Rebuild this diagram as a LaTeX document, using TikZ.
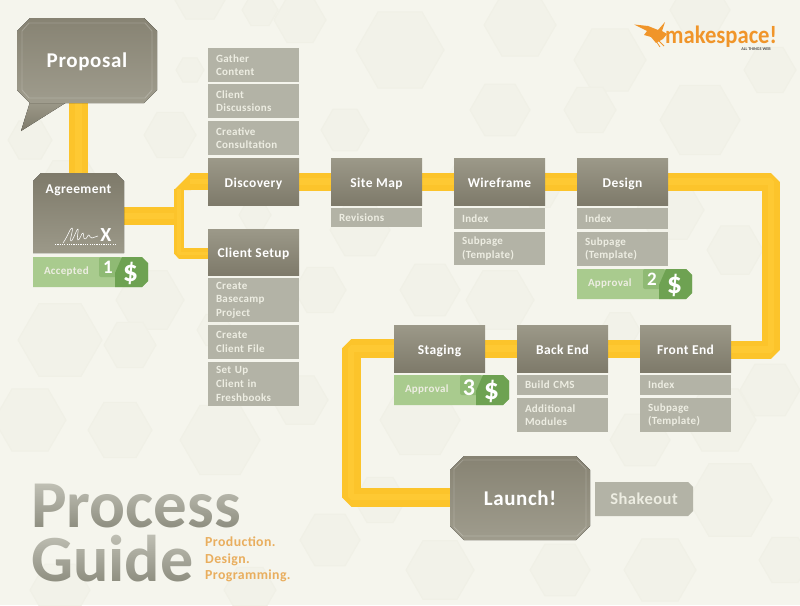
\documentclass[tikz,border=0pt]{standalone}
\usepackage{graphicx}
\usepackage{fontspec}
\setmainfont[LetterSpace=3]{Carlito}
\newfontfamily\plainfont{Carlito}
\usetikzlibrary{calc,fadings}
\definecolor{paper}{HTML}{F5F5ED}
\definecolor{hexa}{HTML}{F2F2E9}
\definecolor{hexb}{HTML}{F0F0E6}
\definecolor{headtop}{HTML}{9C9989}
\definecolor{headbot}{HTML}{7E7A6A}
\definecolor{bigtop}{HTML}{9F9C8D}
\definecolor{bigbot}{HTML}{878373}
\definecolor{subfill}{HTML}{B3B3A6}
\definecolor{subtext}{HTML}{EDEDE2}
\definecolor{bandc}{HTML}{FCC42B}
\definecolor{bandl}{HTML}{FEC933}
\definecolor{greenl}{HTML}{A9CB8E}
\definecolor{greenm}{HTML}{8FBA74}
\definecolor{greend}{HTML}{6EA252}
\definecolor{orangeb}{HTML}{F0952A}
\definecolor{oranget}{HTML}{E9AE5E}
\definecolor{titlec}{HTML}{8E8E80}
\pgfdeclarelayer{bg}
\pgfsetlayers{bg,main}
\tikzset{
  headbox/.style={rectangle,top color=headtop,bottom color=headbot,minimum width=91pt,inner sep=0pt,text=white,text height=11pt,text depth=0pt,font=\fontsize{13.5}{15}\bfseries\selectfont,align=center},
  subbox/.style={rectangle,fill=subfill,minimum width=91pt,text width=75pt,inner xsep=8pt,inner ysep=0pt,text=subtext,font=\fontsize{11}{13.6}\bfseries\selectfont,align=left},
  band/.style={draw=bandc,line width=#1,line join=bevel,postaction={draw=bandl,line width=0.35*#1}},
  band/.default=18pt,
  bighead/.style={top color=bigbot,bottom color=bigtop},
  bigrim/.style={draw=white,opacity=.2,line width=.9pt},
  bigtext/.style={rectangle,inner sep=0pt,text=white,text depth=0pt,font=\fontsize{21}{23}\bfseries\selectfont},
  tagtext/.style={rectangle,inner xsep=11pt,inner ysep=0pt,minimum width=115pt,minimum height=30pt,text width=93pt,text=subtext,font=\fontsize{11}{13}\bfseries\selectfont,align=left},
  tagnum/.style={rectangle,inner sep=0pt,text=white,font=\fontsize{#1}{#1}\bfseries\selectfont},
  tagusd/.style={rectangle,inner sep=0pt,text=white,font=\plainfont\fontsize{30}{30}\bfseries\selectfont},
  titletext/.style={anchor=base west,inner sep=0pt,text=titlec,text depth=0pt,text height=40pt},
  hexshape/.style={fill=hexa,draw=hexb,line width=1pt}
}
% polygon with cut corners: x1 y1 x2 y2, then the cuts nw ne se sw
\newcommand{\cutpoly}[9][]{%
  \fill[#1] (#2+#6,#3) -- (#4-#7,#3) -- (#4,#3+#7) -- (#4,#5-#8) -- (#4-#8,#5) -- (#2+#9,#5) -- (#2,#5-#9) -- (#2,#3+#6) -- cycle;
}
\newcommand{\paytag}[6]{%
  \cutpoly[greenl]{#2}{#3}{#2+115}{#3+30}{0}{6}{6}{0}
  \node[tagtext] (#1) at (#2+57.5,#3+15) {#4};
  \fill[greenm,rounded corners=2pt] (#2+66,#3) rectangle (#2+88,#3+20);
  \node[tagnum=#6] (#1num) at (#2+75,#3+#6*0.55) {#5};
  \fill[greend] (#2+89,#3) -- (#2+109,#3) -- (#2+115,#3+6) -- (#2+115,#3+24) -- (#2+109,#3+30) -- (#2+82,#3+30) -- (#2+82,#3+16) -- cycle;
  \node[tagusd] (#1usd) at (#2+97.5,#3+16) {\$};
}
\begin{document}
\begin{tikzpicture}[x=1pt,y=-1pt]
\useasboundingbox (0,0) rectangle (800,605);
\begin{pgfonlayer}{bg}
\fill[paper] (0,0) rectangle (800,605);
\foreach \hx/\hy/\hr in {200/-5/28, 300/20/26, 400/50/44, 520/25/36, 610/60/36, 700/10/30, 30/140/22,
  70/190/34, 170/135/26, 260/10/18, 150/300/34, 215/330/18, 130/345/26, 60/340/42, 30/420/36, 120/430/32, 220/440/40, 300/400/28,
  360/230/30, 470/180/24, 500/110/30, 590/110/26, 700/120/40, 620/330/20, 670/210/34, 735/250/28, 500/300/34, 430/290/30, 320/290/26,
  420/420/40, 380/500/26, 640/440/30, 720/420/36, 770/390/30, 730/500/42, 660/570/36, 560/570/30, 440/570/34, 330/540/30, 60/590/30, 250/590/26, 785/560/26,
  770/70/26, 540/190/20, 110/40/16, 190/70/14, 345/130/24, 255/215/16} {
  \path[hexshape] (\hx,\hy) ++(\hr,0) -- ++(-0.5*\hr,0.866*\hr) -- ++(-\hr,0) -- ++(-0.5*\hr,-0.866*\hr) -- ++(0.5*\hr,-0.866*\hr) -- ++(\hr,0) -- cycle;
}
\end{pgfonlayer}

% Proposal and Agreement
\fill[top color=headtop,bottom color=headbot] (30,102) -- (21,131) -- (67,102) -- cycle;
\cutpoly[bighead]{17}{18}{157}{103}{13}{13}{13}{13}
\draw[bigrim] (29,23) -- (145,23) -- (152,31) -- (152,90) -- (145,98) -- (29,98) -- (22,90) -- (22,31) -- cycle;
\node[bigtext,text height=13pt] (proposal) at (87,60.5) {Proposal};
\cutpoly[top color=headbot,bottom color=headtop]{33}{173}{124}{253}{8}{8}{0}{0}
\node[rectangle,minimum width=91pt,minimum height=80pt,inner sep=0pt] (agreement) at (78.5,213) {};
\node[text=white,text height=10pt,text depth=0pt,font=\fontsize{13.5}{15}\bfseries\selectfont,inner sep=0pt] (agreementlabel) at (78.5,188) {Agreement};
\draw[white,line width=.55pt,line join=round] (63,243) .. controls (68,236) and (70,228) .. (72,228) .. controls (74,228) and (69,241) .. (71,241) .. controls (73,241) and (77,228) .. (78,229) .. controls (79,230) and (76,240) .. (78,240) .. controls (80,240) and (82,232) .. (83,233) .. controls (84,234) and (83,239) .. (85,239) .. controls (87,239) and (88,234) .. (89,235) .. controls (90,236) and (90,238) .. (92,238) -- (98,236);
\node[text=white,font=\plainfont\fontsize{20}{20}\bfseries\selectfont,inner sep=0pt] (xmark) at (106,235) {X};
\draw[white,line width=1.1pt,dash pattern=on 1.2pt off 1.1pt] (55,244.5) -- (115,244.5);
\paytag{accepted}{33}{257}{Accepted}{1}{19}

% Discovery column
\node[subbox,minimum height=34pt] (gather) at (253.5,65) {Gather\\Content};
\node[subbox,minimum height=34pt] (discussions) at (253.5,101) {Client\\Discussions};
\node[subbox,minimum height=34pt] (consultation) at (253.5,138) {Creative\\Consultation};
\node[headbox,minimum height=47pt] (discovery) at (253.5,181.5) {Discovery};
\node[headbox,minimum height=46pt] (clientsetup) at (253.5,252) {Client Setup};
\node[subbox,minimum height=44pt] (basecamp) at (253.5,300) {Create\\Basecamp\\Project};
\node[subbox,minimum height=34pt] (clientfile) at (253.5,342) {Create\\Client File};
\node[subbox,minimum height=44pt] (freshbooks) at (253.5,384) {Set Up\\Client in\\Freshbooks};

% Site Map, Wireframe, Design
\node[headbox,minimum height=47pt] (sitemap) at (376.5,181.5) {Site Map};
\node[subbox,minimum height=19pt] (revisions) at (376.5,217.5) {Revisions};
\node[headbox,minimum height=47pt] (wireframe) at (499.5,181.5) {Wireframe};
\node[subbox,minimum height=21pt] (wfindex) at (499.5,218.5) {Index};
\node[subbox,minimum height=33pt] (wfsub) at (499.5,248.5) {Subpage\\(Template)};
\node[headbox,minimum height=47pt] (design) at (622.5,181.5) {Design};
\node[subbox,minimum height=21pt] (dsindex) at (622.5,218.5) {Index};
\node[subbox,minimum height=34pt] (dssub) at (622.5,249) {Subpage\\(Template)};
\paytag{approvaltwo}{577}{269}{Approval}{2}{19}

% Bottom row
\node[headbox,minimum height=47pt] (staging) at (439.5,348.5) {Staging};
\paytag{approvalthree}{394}{375}{Approval}{3}{24}
\node[headbox,minimum height=47pt] (backend) at (562.5,348.5) {Back End};
\node[subbox,minimum height=20pt] (buildcms) at (562.5,385) {Build CMS};
\node[subbox,minimum height=34pt] (modules) at (562.5,415) {Additional\\Modules};
\node[headbox,minimum height=47pt] (frontend) at (685.5,348.5) {Front End};
\node[subbox,minimum height=20pt] (feindex) at (685.5,385) {Index};
\node[subbox,minimum height=34pt] (fesub) at (685.5,415) {Subpage\\(Template)};

% Launch
\cutpoly[bighead]{450}{456}{590}{540}{14}{14}{14}{14}
\draw[bigrim] (463,460) -- (577,460) -- (586,469) -- (586,527) -- (577,536) -- (463,536) -- (454,527) -- (454,469) -- cycle;
\node[bigtext,text height=14pt,minimum width=140pt,minimum height=84pt] (launch) at (520,498) {Launch!};
\cutpoly[subfill]{595}{482}{693}{516}{0}{5}{5}{0}
\node[rectangle,inner sep=0pt,minimum width=98pt,minimum height=34pt,text=subtext,font=\fontsize{16.5}{18}\bfseries\selectfont] (shakeout) at (644,499) {Shakeout};

% Connectors
\coordinate (branchbot) at (179,253.5);
\coordinate (branchup) at (179,189);
\coordinate (agreeout) at (176,216);
\coordinate (proposalout) at (78.5,103);
\coordinate (cornerne) at (771,181.5);
\coordinate (cornerse) at (771,349.5);
\coordinate (cornernw) at (351,348.5);
\coordinate (cornersw) at (351,497);
\begin{pgfonlayer}{bg}
\draw[band=19pt] (proposalout) -- (agreement.north);
\draw[band=18pt] (agreement.east |- agreeout) -- (agreeout);
\fill[bandc] (191,173) -- (174,190) -- (191,190) -- cycle;
\draw[band=17pt] (discovery.west) -- (190,181.5);
\draw[band=10.5pt] (branchup) -- (branchbot) -- (clientsetup.west |- branchbot);
\draw[band=18pt] (discovery.east) -- (sitemap.west);
\draw[band=18pt] (sitemap.east) -- (wireframe.west);
\draw[band=18pt] (wireframe.east) -- (design.west);
\draw[band=18pt] (design.east) -- (cornerne) -- (cornerse) -- (frontend.east |- cornerse);
\draw[band=18pt] (frontend.west) -- (backend.east);
\draw[band=18pt] (backend.west) -- (staging.east);
\draw[band=19pt] (staging.west) -- (cornernw) -- (cornersw) -- (launch.west |- cornersw);
\end{pgfonlayer}

% Title
\node[titletext,font=\plainfont\fontsize{67}{67}\bfseries\selectfont] (titleone) at (31,527) {Process};
\node[titletext,font=\plainfont\fontsize{66}{66}\bfseries\selectfont] (titletwo) at (31,581) {Guide};
\fill[paper,opacity=.5,path fading=south] (28,482) rectangle (245,528);
\fill[paper,opacity=.5,path fading=south] (28,532) rectangle (196,582);
\node[anchor=north west,inner sep=0pt,text=oranget,align=left,font=\fontsize{13.8}{16.6}\bfseries\selectfont] (tagline) at (205,536.5) {Production.\\Design.\\Programming.};

% Logo
\fill[orangeb] (634,24.5) -- (648,26) -- (658,30) -- (665,22) -- (662,31) -- (667,34) -- (663,39) -- (656,43) -- (651,37) -- (644,35) -- (647,31) -- cycle;
\draw[orangeb,line width=.8pt] (654,38) -- (660,47) (658,40) -- (664,46);
\node[anchor=base west,inner sep=0pt,text=orangeb,text depth=0pt,font=\plainfont\fontsize{25}{25}\bfseries\selectfont] (logo) at (665,43.5) {\scalebox{.905}[1]{makespace!}};
\node[anchor=base east,inner sep=0pt,text=black!70,font=\plainfont\fontsize{4.2}{5}\bfseries\selectfont] (logosub) at (771,50.5) {ALL THINGS WEB};
\end{tikzpicture}
\end{document}
